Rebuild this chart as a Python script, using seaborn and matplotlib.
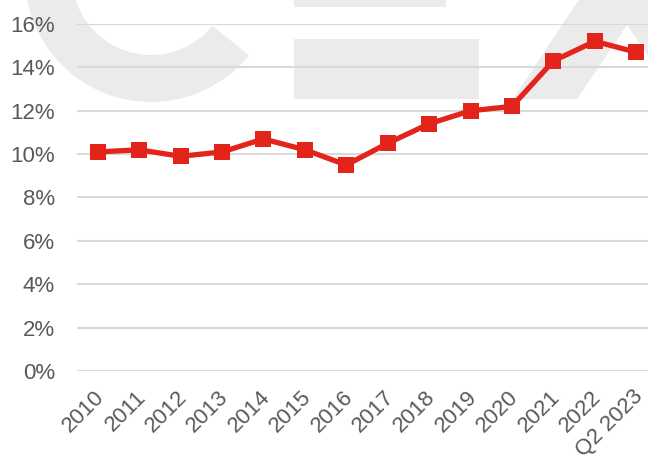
import matplotlib
matplotlib.use("Agg")
import matplotlib.pyplot as plt
import seaborn as sns
import pandas as pd
from matplotlib.patches import Wedge, Rectangle, Polygon
from matplotlib.ticker import FuncFormatter
from matplotlib.transforms import IdentityTransform, ScaledTranslation

periods = ["2010", "2011", "2012", "2013", "2014", "2015", "2016", "2017",
           "2018", "2019", "2020", "2021", "2022", "Q2 2023"]
values = [10.1, 10.2, 9.9, 10.1, 10.7, 10.2, 9.5, 10.5,
          11.4, 12.0, 12.2, 14.3, 15.2, 14.7]
y_ticks = [0, 2, 4, 6, 8, 10, 12, 14, 16]

sns.set_theme(style="white")
plt.rcParams["font.family"] = ["Liberation Sans", "DejaVu Sans"]

W, H = 648, 459
fig = plt.figure(figsize=(W / 100, H / 100), dpi=100)
fig.patch.set_facecolor("white")

# faint watermark (figure pixel coordinates, y measured from top)
wm = "#ebebeb"
def P(x, y):
    return (x / W, 1 - y / H)

tr = fig.transFigure
ring = Wedge((151, H + 24), 126, 100, 321, width=47, transform=IdentityTransform(),
             facecolor=wm, edgecolor="none", zorder=-5)
fig.patches.append(ring)
for (x0, y0, x1, y1) in [(294, 0, 446, 7), (294, 39, 479, 99)]:
    fig.patches.append(Rectangle(P(x0, y1), (x1 - x0) / W, (y1 - y0) / H,
                                 transform=tr, facecolor=wm, edgecolor="none", zorder=-5))
poly = [P(513, 99), P(577, 99), P(627, 25), P(650, 59), P(650, -2), P(580, -2)]
fig.patches.append(Polygon(poly, closed=True, transform=tr, facecolor=wm,
                           edgecolor="none", zorder=-5))

left, right, top, bottom = 77, 657, 24, 371
ax = fig.add_axes([left / W, 1 - bottom / H, (right - left) / W, (bottom - top) / H])
ax.patch.set_alpha(0)
ax.set_zorder(1)

df = pd.DataFrame({"period": periods, "value": values})
sns.lineplot(data=df, x="period", y="value", ax=ax, sort=False,
             color="#e3241b", linewidth=3.8, marker="s", markersize=12,
             markeredgewidth=0, zorder=5)

ax.set_xlim(-0.5, len(periods) - 0.5)
ax.set_ylim(0, 16)
ax.set_yticks(y_ticks)
ax.yaxis.set_major_formatter(FuncFormatter(lambda v, p: f"{v:.0f}%"))
ax.grid(axis="y", color="#d9d9d9", linewidth=1.5)
ax.grid(axis="x", visible=False)
for s in ax.spines.values():
    s.set_visible(False)
ax.set_xlabel("")
ax.set_ylabel("")
ax.tick_params(axis="both", length=0, labelsize=16, labelcolor="#595959")
ax.tick_params(axis="y", pad=16)
ax.tick_params(axis="x", pad=11)
shift = ScaledTranslation(-4 / 100, 0, fig.dpi_scale_trans)
for lab in ax.get_xticklabels():
    lab.set_rotation(45)
    lab.set_ha("right")
    lab.set_rotation_mode("anchor")
    lab.set_transform(lab.get_transform() + shift)

fig.savefig("out.png", dpi=100, facecolor="white")
